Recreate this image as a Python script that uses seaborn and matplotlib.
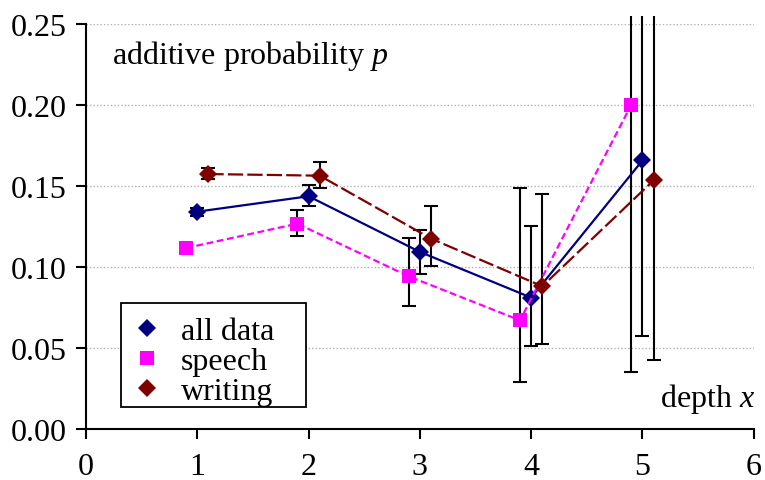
import matplotlib
matplotlib.use("Agg")
import matplotlib.pyplot as plt
import matplotlib.transforms as mtransforms
from matplotlib.lines import Line2D
from matplotlib.patches import Rectangle
from matplotlib.ticker import FormatStrFormatter
import seaborn as sns
import numpy as np

# ---- data ----
depth_ticks = [0, 1, 2, 3, 4, 5, 6]
y_ticks = [0.00, 0.05, 0.10, 0.15, 0.20, 0.25]

all_x = [1.0, 2.0, 3.0, 4.0, 5.0]
all_p = [0.134, 0.1435, 0.1092, 0.0810, 0.1656]
all_lo = [0.1311, 0.1373, 0.0954, 0.0510, 0.0572]
all_hi = [0.1363, 0.1502, 0.1225, 0.1250, 0.3000]

speech_x = [0.9, 1.9, 2.9, 3.9, 4.9]
speech_p = [0.1116, 0.1266, 0.0941, 0.0670, 0.2000]
speech_lo = [0.1100, 0.1188, 0.0757, 0.0291, 0.0352]
speech_hi = [0.1132, 0.1348, 0.1178, 0.1486, 0.3800]

writing_x = [1.1, 2.1, 3.1, 4.1, 5.1]
writing_p = [0.1572, 0.1562, 0.1174, 0.0880, 0.1533]
writing_lo = [0.1542, 0.1486, 0.1003, 0.0525, 0.0428]
writing_hi = [0.1609, 0.1646, 0.1377, 0.1449, 0.2900]

labels = ["all data", "speech", "writing"]
colors = ["#000080", "#FF00FF", "#800000"]

# ---- style ----
sns.set_theme(style="white")
plt.rcParams["font.family"] = ["Liberation Serif", "DejaVu Serif"]
plt.rcParams["mathtext.fontset"] = "custom"
plt.rcParams["mathtext.rm"] = "Liberation Serif"
plt.rcParams["mathtext.it"] = "Liberation Serif:italic"
plt.rcParams["lines.scale_dashes"] = False
plt.rcParams["text.color"] = "black"

FS = 23

fig = plt.figure(figsize=(7.65, 4.81), dpi=100)
ax = fig.add_axes([0.1124, 0.106, 0.8729, 0.843])

ax.set_xlim(0, 6)
ax.set_ylim(0, 0.25)

# gridlines
for yv in y_ticks[1:]:
    ax.axhline(yv, color="#b0b0b0", lw=1.0, ls=(0, (1, 1.5)), zorder=0.5)

clipbox = mtransforms.TransformedBbox(
    mtransforms.Bbox([[-0.01, -0.01], [1.01, 1.018]]), ax.transAxes)

DMS = 9.0
SMS = 10.0
series = [
    (all_x, all_p, all_lo, all_hi, "D", DMS, "solid"),
    (speech_x, speech_p, speech_lo, speech_hi, "s", SMS, (5, 2.5)),
    (writing_x, writing_p, writing_lo, writing_hi, "D", DMS, (11, 3)),
]

for (xs, ps, lo, hi, mk, ms, dash), col, lab in zip(series, colors, labels):
    xs_a = np.array(xs); p_a = np.array(ps)
    err = [p_a - np.array(lo), np.array(hi) - p_a]
    cont = ax.errorbar(xs_a, p_a, yerr=err, fmt="none", ecolor="black",
                       elinewidth=1.5, capsize=5.2, capthick=1.5, zorder=2)
    for art in list(cont.lines[1]) + list(cont.lines[2]):
        art.set_clip_box(clipbox)
    sns.lineplot(x=xs, y=ps, ax=ax, color=col, lw=1.6, marker=mk,
                 markersize=ms, markeredgewidth=0, markeredgecolor=col,
                 zorder=3, legend=False)
    line = ax.lines[-1]
    if dash != "solid":
        line.set_dashes(dash)

# axes styling
sns.despine(ax=ax, top=True, right=True)
for s in ["left", "bottom"]:
    ax.spines[s].set_color("black")
    ax.spines[s].set_linewidth(1.5)
ax.set_xticks(depth_ticks)
ax.set_yticks(y_ticks)
ax.yaxis.set_major_formatter(FormatStrFormatter("%.2f"))
ax.tick_params(axis="both", which="major", direction="out", length=7,
               width=1.5, color="black", labelsize=FS, labelcolor="black",
               left=True, bottom=True)
ax.tick_params(axis="x", pad=9.5)
ax.tick_params(axis="y", pad=7)
ax.set_xlabel("")
ax.set_ylabel("")

ax.text(0.234, 0.2258, "additive probability $p$", fontsize=FS,
        ha="left", va="baseline", color="black")
ax.text(6.01, 0.0139, "depth $x$", fontsize=FS, ha="right",
        va="baseline", color="black")

# legend box (drawn as its own rectangle) and entries
ax.add_patch(Rectangle((0.0524, 0.0543), 0.2771, 0.2564,
                       transform=ax.transAxes, facecolor="white",
                       edgecolor="black", lw=1.3, zorder=4))
handles = [Line2D([], [], ls="none", marker=m, color=c, markersize=s,
                  markeredgewidth=0)
           for m, c, s in zip(["D", "s", "D"], colors, [DMS, SMS, DMS])]
leg = ax.legend(handles, labels, loc="upper left",
                bbox_to_anchor=(0.067, 0.276), borderaxespad=0,
                fontsize=FS, frameon=False,
                handlelength=1.0, handletextpad=0.56, labelspacing=0.02,
                borderpad=0.0)
leg.set_zorder(5)
for t in leg.get_texts():
    t.set_color("black")

fig.savefig("out.png", dpi=100)
